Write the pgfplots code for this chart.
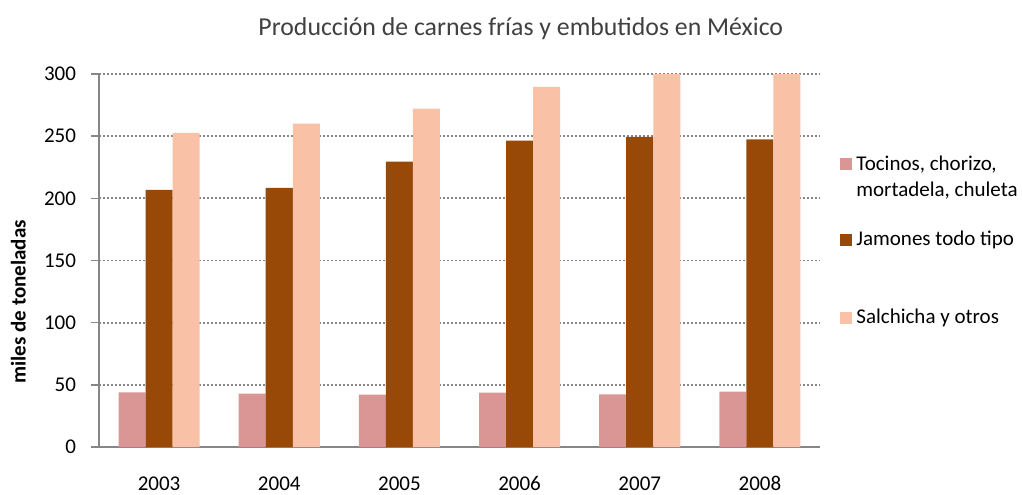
\documentclass[border=0pt]{standalone}
\usepackage{pgfplots}
\pgfplotsset{compat=1.18}
\usepackage{fontspec}
\setmainfont{Carlito}
\definecolor{barpink}{HTML}{D99694}
\definecolor{barbrown}{HTML}{984807}
\definecolor{barpeach}{HTML}{F9C2A7}
\definecolor{axisgray}{HTML}{868686}
\definecolor{titlegray}{HTML}{404040}

\pgfplotstableread{
x  tocino jamon salchicha
0  43.9   206.8 252.6
1  42.9   208.4 260.1
2  42.1   229.6 272.2
3  43.7   246.4 289.6
4  42.3   249.4 300
5  44.5   247.5 300
}\datos

\begin{document}
\begin{tikzpicture}
\useasboundingbox (0,0) rectangle (511pt,247pt);
\begin{axis}[
  at={(49.5pt,23.5pt)}, anchor=south west,
  scale only axis,
  width=360.5pt, height=186.5pt,
  ybar=0pt,
  bar width=0.225,
  xmin=-0.5, xmax=5.5,
  ymin=0, ymax=300,
  xtick=data,
  xticklabels={2003,2004,2005,2006,2007,2008},
  ytick={0,50,...,300},
  major x tick style={draw=none},
  ytick style={axisgray, line width=0.8pt},
  tick align=outside,
  major tick length=4pt,
  axis x line*=bottom,
  axis y line*=left,
  axis line style={axisgray, line width=1pt},
  ymajorgrids=true,
  grid style={axisgray, line width=0.85pt, dash pattern=on 0.85pt off 1.15pt},
  tick label style={font=\fontsize{10.5}{12}\selectfont, text=black},
  /pgf/number format/assume math mode=true,
  xticklabel style={anchor=base, yshift=-17.5pt},
  yticklabel style={xshift=-4pt},
  ylabel={\textbf{miles de toneladas}},
  ylabel style={font=\fontsize{10.5}{12}\selectfont, at={(axis description cs:-0.112,0.389)}, anchor=center},
  title={Producción de carnes frías y embutidos en México},
  every axis title shift=0pt,
  title style={font=\fontsize{12.9}{15}\selectfont, text=titlegray, at={(rel axis cs:0.585,1.102)}, anchor=base},
  legend style={draw=none, fill=none, at={(rel axis cs:1.0277,0.802)}, anchor=north west,
    font=\fontsize{10.5}{13}\selectfont, row sep=0pt, inner sep=0pt,
    cells={anchor=base west, inner xsep=2.5pt, inner ysep=0pt}},
  legend image code/.code={\fill[#1] (0pt,0pt) rectangle (6pt,6pt);},
]
\addplot[fill=barpink, draw=none] table[x=x, y=tocino] {\datos};
\addlegendentry{\begin{tabular}[t]{@{}l@{}}Tocinos, chorizo,\\mortadela, chuleta\end{tabular}}
\addplot[fill=barbrown, draw=none] table[x=x, y=jamon] {\datos};
\addlegendentry{\rule[-3pt]{0pt}{35.1pt}Jamones todo tipo}
\addplot[fill=barpeach, draw=none] table[x=x, y=salchicha] {\datos};
\addlegendentry{\rule{0pt}{33.5pt}Salchicha y otros}
\end{axis}
\end{tikzpicture}
\end{document}
